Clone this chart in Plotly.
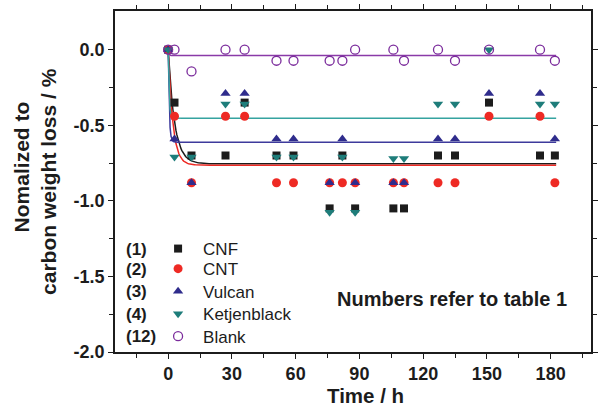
import numpy as np
import plotly.graph_objects as go

# ---- data ----
time_h = [0, 3, 11, 27, 36, 51, 59, 76, 82, 88, 106, 111, 127, 135, 151, 175, 182]
cnf = [0, -0.35, -0.70, -0.70, -0.35, -0.70, -0.70, -1.05, -0.70, -1.05, -1.05, -1.05, -0.70, -0.70, -0.35, -0.70, -0.70]
cnt = [0, -0.44, -0.88, -0.44, -0.44, -0.88, -0.88, -0.88, -0.88, -0.88, -0.88, -0.88, -0.88, -0.88, -0.44, -0.44, -0.88]
vulcan = [0, -0.59, -0.88, -0.29, -0.29, -0.59, -0.59, -0.88, -0.59, -0.88, -0.88, -0.88, -0.59, -0.59, -0.29, -0.29, -0.59]
ketjen = [0, -0.71, -0.71, -0.36, -0.36, -0.71, -0.71, -1.075, -0.71, -1.075, -0.72, -0.72, -0.36, -0.36, 0.0, -0.36, -0.36]
blank = [0, 0, -0.144, 0, 0, -0.073, -0.073, -0.073, -0.073, 0, 0, -0.073, 0, -0.073, 0, 0, -0.073]

series_names = ["CNF", "CNT", "Vulcan", "Ketjenblack", "Blank"]
series_numbers = ["(1)", "(2)", "(3)", "(4)", "(12)"]
# exponential fit parameters: plateau value and time constant (h)
fit_plateau = [-0.755, -0.764, -0.612, -0.453, -0.038]
fit_tau = [3.0, 2.2, 0.5, 0.45, 0.3]
fit_end = 182.6

x_ticks = [0, 30, 60, 90, 120, 150, 180]
y_ticks = [0.0, -0.5, -1.0, -1.5, -2.0]

marker_colors = ["#1c1c1c", "#ee2a24", "#2f2c8c", "#1e7d7a", "#7b2c9c"]
line_colors = ["#1c1c1c", "#ee2a24", "#3d3a9c", "#35a3a0", "#8a3aa8"]
symbols = ["square", "circle", "triangle-up", "triangle-down", "circle-open"]
sizes = [8, 9, 9, 9, 9]

FONT = "Liberation Sans, Arial, Helvetica, sans-serif"
INK = "#1c1c1c"

fig = go.Figure()
t_fit = np.linspace(0, fit_end, 400)
for i, name in enumerate(series_names):
    yfit = fit_plateau[i] * (1 - np.exp(-t_fit / fit_tau[i]))
    fig.add_trace(go.Scatter(x=t_fit, y=yfit, mode="lines",
                             line=dict(color=line_colors[i], width=1.5),
                             showlegend=False, hoverinfo="skip"))

# one legend per series so each row sits exactly where the reference puts it
row_y = [0.302, 0.243, 0.177, 0.111, 0.045]
legend_ids = ["legend", "legend2", "legend3", "legend4", "legend5"]
data = [cnf, cnt, vulcan, ketjen, blank]
for i, name in enumerate(series_names):
    mk = dict(symbol=symbols[i], size=sizes[i], color=marker_colors[i])
    if symbols[i] == "circle-open":
        mk["line"] = dict(color=marker_colors[i], width=1.3)
    fig.add_trace(go.Scatter(x=time_h, y=data[i], mode="markers", name=name,
                             marker=mk, legend=legend_ids[i]))

legend_layout = {}
for lid, yy in zip(legend_ids, row_y):
    legend_layout[lid] = dict(x=0.08, y=yy, xanchor="left", yanchor="middle",
                              bgcolor="rgba(0,0,0,0)", borderwidth=0,
                              itemwidth=40,
                              font=dict(family=FONT, size=17, color=INK))

# legend numbers
for lab, yy in zip(series_numbers, row_y):
    fig.add_annotation(text=lab, xref="paper", yref="paper", x=0.0186, y=yy,
                       xanchor="left", yanchor="middle", showarrow=False,
                       font=dict(family=FONT, size=17, color=INK, weight="bold"))

fig.add_annotation(text="Numbers refer to table 1", xref="paper", yref="paper",
                   x=0.7075, y=0.155, xanchor="center", yanchor="middle",
                   showarrow=False,
                   font=dict(family=FONT, size=20, color=INK, weight="bold"))

# axis titles
fig.add_annotation(text="Time / h", xref="paper", yref="paper", x=0.526, y=-0.127,
                   xanchor="center", yanchor="middle", showarrow=False,
                   font=dict(family=FONT, size=20.5, color=INK, weight="bold"))
fig.add_annotation(text="Nomalized to", xref="paper", yref="paper", x=-0.1967, y=0.5425,
                   xanchor="center", yanchor="middle", textangle=-90, showarrow=False,
                   font=dict(family=FONT, size=21, color=INK, weight="bold"))
fig.add_annotation(text="carbon weight loss / %", xref="paper", yref="paper", x=-0.1387, y=0.5015,
                   xanchor="center", yanchor="middle", textangle=-90, showarrow=False,
                   font=dict(family=FONT, size=21, color=INK, weight="bold"))

fig.update_layout(
    width=600, height=407,
    margin=dict(l=115, r=2, t=11, b=55),
    paper_bgcolor="white", plot_bgcolor="white",
    font=dict(family=FONT, color=INK),
    showlegend=True,
    **legend_layout,
)
fig.update_xaxes(range=[-25, 199], tickvals=x_ticks, ticktext=[str(v) for v in x_ticks],
                 ticks="outside", ticklen=5, tickwidth=1.3, tickcolor=INK,
                 minor=dict(tickvals=[-15, 15, 45, 75, 105, 135, 165, 195], ticks="outside",
                            ticklen=4, tickwidth=1.2, tickcolor=INK),
                 showline=True, linecolor=INK, linewidth=1.5, mirror="ticks",
                 showgrid=False, zeroline=False,
                 tickfont=dict(family=FONT, size=18, color=INK, weight="bold"))
fig.update_yaxes(range=[-2.0, 0.256], tickvals=y_ticks, ticktext=["0.0", "-0.5", "-1.0", "-1.5", "-2.0"],
                 ticks="outside", ticklen=5, tickwidth=1.3, tickcolor=INK,
                 minor=dict(tickvals=[-0.25, -0.75, -1.25, -1.75], ticks="outside",
                            ticklen=4, tickwidth=1.2, tickcolor=INK),
                 showline=True, linecolor=INK, linewidth=1.5, mirror="ticks",
                 showgrid=False, zeroline=False,
                 tickfont=dict(family=FONT, size=18, color=INK, weight="bold"))

# remove the default page margin so the 600x407 figure fills the window exactly
fig.write_html("out.html", config={"displayModeBar": False},
               post_script="document.body.style.margin='0';document.body.style.overflow='hidden';")
